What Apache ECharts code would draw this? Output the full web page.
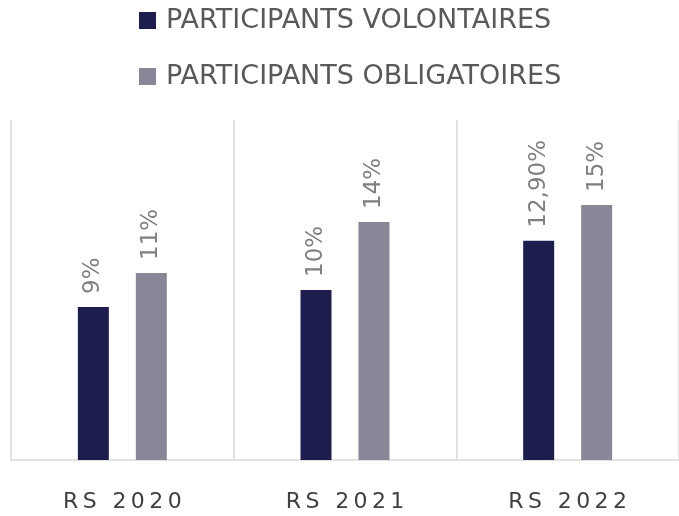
<!DOCTYPE html>
<html><head><meta charset="utf-8">
<script src="https://cdn.jsdelivr.net/npm/echarts@6/dist/echarts.min.js"></script>
<style>html,body{margin:0;padding:0;background:#fff}#c{width:679px;height:516px}</style>
</head><body><div id="c"></div>
<script>
const categories = ['RS 2020', 'RS 2021', 'RS 2022'];
const volontaires = [9, 10, 12.9];
const obligatoires = [11, 14, 15];
const volontairesLabels = ['9%', '10%', '12,90%'];
const obligatoiresLabels = ['11%', '14%', '15%'];
const seriesNames = ['PARTICIPANTS VOLONTAIRES', 'PARTICIPANTS OBLIGATOIRES'];

const chart = echarts.init(document.getElementById('c'));
const font = '"DejaVu Sans", sans-serif';
function lbl(arr) {
  return {
    show: true, position: 'top', rotate: 90, align: 'left', verticalAlign: 'middle',
    distance: 13, color: '#7f7f7f', fontSize: 23, fontFamily: font,
    formatter: p => arr[p.dataIndex]
  };
}
chart.setOption({
  animation: false,
  legend: {
    orient: 'vertical', left: 134, top: 2, itemWidth: 17, itemHeight: 17, itemGap: 29,
    icon: 'rect',
    textStyle: { color: '#595959', fontSize: 27, lineHeight: 17, fontFamily: font, padding: [0, 0, 0, 5] },
    data: seriesNames
  },
  grid: { left: 11, right: 0, top: 120, bottom: 56, containLabel: false },
  xAxis: {
    type: 'category', data: categories,
    axisLine: { lineStyle: { color: '#d9d9d9', width: 1.5 } },
    axisTick: { show: false },
    splitLine: { show: true, lineStyle: { color: '#d9d9d9', width: 1.5 } },
    axisLabel: { color: '#404040', fontSize: 22, fontFamily: font, margin: 31,
      formatter: v => v.split('').join('\u2009') }
  },
  yAxis: { type: 'value', min: 0, max: 20, show: false, splitLine: { show: false } },
  series: [
    { name: seriesNames[0], type: 'bar', data: volontaires, barWidth: 31, barGap: '87%',
      itemStyle: { color: '#1e1e4e' }, label: lbl(volontairesLabels) },
    { name: seriesNames[1], type: 'bar', data: obligatoires, barWidth: 31,
      itemStyle: { color: '#888797' }, label: lbl(obligatoiresLabels) }
  ]
});
</script></body></html>
